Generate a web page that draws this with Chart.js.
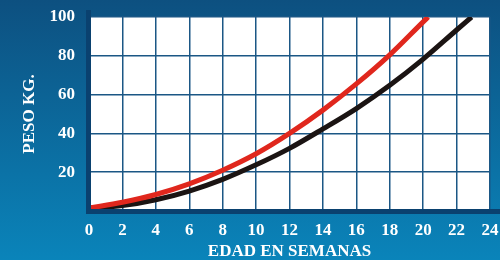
<!DOCTYPE html>
<html>
<head>
<meta charset="utf-8">
<script src="https://cdn.jsdelivr.net/npm/chart.js@4/dist/chart.umd.min.js"></script>
<style>
  html, body { margin: 0; padding: 0; background: #0b6799; }
  #wrap { width: 500px; height: 260px; }
</style>
</head>
<body>
<div id="wrap"><canvas id="chart" width="500" height="260"></canvas></div>
<script>
// semanas y peso (kg)
const redWeeks = [0, 2, 4, 6, 8, 10, 12, 14, 16, 18, 20, 20.3];
const redKg = [1.5, 4.5, 8.5, 14, 21, 29.5, 40, 52, 65.5, 80.5, 97.5, 100];
const blackWeeks = [0, 2, 4, 6, 8, 10, 12, 14, 16, 18, 20, 22, 22.9];
const blackKg = [1.5, 2.8, 5.8, 10.3, 16.3, 23.8, 32.3, 42.3, 52.8, 64.8, 78.3, 93.3, 100];
const xTicks = [0, 2, 4, 6, 8, 10, 12, 14, 16, 18, 20, 22, 24];
const yTicks = [20, 40, 60, 80, 100];

const toPoints = (xs, ys) => xs.map((x, i) => ({ x: x, y: ys[i] }));

const tickFont = { family: "'Liberation Serif', 'Times New Roman', serif", size: 17, weight: "bold" };
const titleFont = { family: "'Liberation Serif', 'Times New Roman', serif", size: 17, weight: "bold", lineHeight: 1 };
const gridColor = "#1b5785";
const barColor = "#0a416f";

// fondo degradado + área blanca
const background = {
  id: "background",
  beforeDraw(chart) {
    const { ctx, width, height, chartArea: a } = chart;
    const g = ctx.createLinearGradient(0, 0, 0, height);
    g.addColorStop(0, "#0d5080");
    g.addColorStop(1, "#0a84ba");
    ctx.save();
    ctx.fillStyle = g;
    ctx.fillRect(0, 0, width, height);
    ctx.fillStyle = "#ffffff";
    ctx.fillRect(a.left, a.top, a.right - a.left, a.bottom - a.top);
    ctx.restore();
  },
};

// barras gruesas de los ejes
const axisBars = {
  id: "axisBars",
  afterDatasetsDraw(chart) {
    const { ctx, width, chartArea: a } = chart;
    ctx.save();
    ctx.fillStyle = barColor;
    ctx.fillRect(a.left - 3, a.top - 7, 5, a.bottom - a.top + 10);
    ctx.fillRect(a.left - 3, a.bottom - 2, width - a.left + 3, 5);
    ctx.restore();
  },
};

new Chart(document.getElementById("chart"), {
  type: "line",
  data: {
    datasets: [
      {
        data: toPoints(redWeeks, redKg),
        borderColor: "#e0271d",
        borderWidth: 5,
        pointRadius: 0,
        cubicInterpolationMode: "monotone",
        borderCapStyle: "butt",
        clip: 0,
      },
      {
        data: toPoints(blackWeeks, blackKg),
        borderColor: "#1b1413",
        borderWidth: 5,
        pointRadius: 0,
        cubicInterpolationMode: "monotone",
        borderCapStyle: "butt",
        clip: 0,
      },
    ],
  },
  options: {
    responsive: false,
    animation: false,
    layout: { padding: { top: 17, right: 10, left: 0, bottom: 0 } },
    plugins: { legend: { display: false }, tooltip: { enabled: false } },
    scales: {
      x: {
        type: "linear",
        min: 0,
        max: 24,
        afterFit: (s) => {
          s.height = 49;
          s.paddingLeft = 0;
          s.paddingRight = 0;
        },
        afterBuildTicks: (s) => { s.ticks = xTicks.map((v) => ({ value: v })); },
        grid: { color: gridColor, lineWidth: 1.5, drawTicks: false },
        border: { display: false },
        ticks: { color: "#ffffff", font: tickFont, padding: 9, maxRotation: 0, autoSkip: false },
        title: { display: true, text: "EDAD EN SEMANAS", color: "#ffffff", font: titleFont, padding: { top: 0, bottom: 0 } },
      },
      y: {
        min: 0,
        max: 100,
        afterFit: (s) => {
          s.width = 89;
          s.paddingTop = 0;
          s.paddingBottom = 0;
        },
        afterBuildTicks: (s) => { s.ticks = [0].concat(yTicks).map((v) => ({ value: v })); },
        grid: { color: gridColor, lineWidth: 1.5, drawTicks: false },
        border: { display: false },
        ticks: {
          color: "#ffffff",
          font: tickFont,
          padding: 14,
          callback: (v) => (v === 0 ? "" : v),
        },
        title: { display: true, text: "PESO KG.", color: "#ffffff", font: titleFont, padding: { top: 21, bottom: 0 } },
      },
    },
  },
  plugins: [background, axisBars],
});
</script>
</body>
</html>
